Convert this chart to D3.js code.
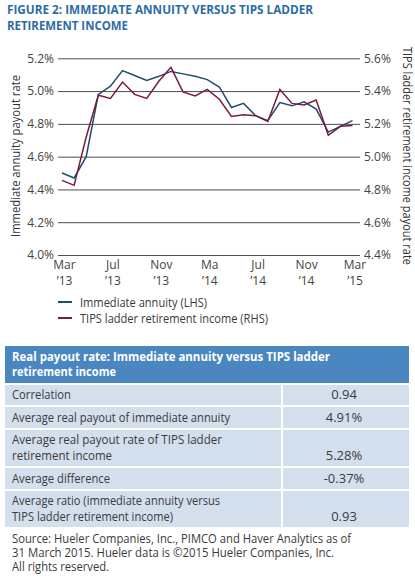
<!DOCTYPE html>
<html><head><meta charset="utf-8">
<script src="https://cdn.jsdelivr.net/npm/d3@7"></script>
<style>
html,body{margin:0;padding:0;background:#fff;}
svg{display:block;font-family:"Open Sans",sans-serif;}
</style></head>
<body>
<svg id="c" width="415" height="579"></svg>
<script>
// ---- data ----
const months = ["Mar 13","Apr 13","May 13","Jun 13","Jul 13","Aug 13","Sep 13","Oct 13","Nov 13","Dec 13",
  "Jan 14","Feb 14","Mar 14","Apr 14","May 14","Jun 14","Jul 14","Aug 14","Sep 14","Oct 14","Nov 14","Dec 14",
  "Jan 15","Feb 15","Mar 15"];
const annuityLHS = [4.50,4.47,4.60,4.98,5.03,5.125,5.095,5.065,5.09,5.12,5.105,5.09,5.07,5.025,4.90,4.925,4.85,4.82,4.93,4.91,4.935,4.89,4.75,4.785,4.82];
const tipsRHS = [4.855,4.825,5.12,5.375,5.355,5.455,5.38,5.355,5.46,5.545,5.395,5.37,5.41,5.35,5.245,5.255,5.25,5.215,5.41,5.325,5.315,5.345,5.13,5.185,5.19];
const xTickIndex = [0,4,8,12,16,20,24];
const xTickLabels = [["Mar","\u201913"],["Jul","\u201913"],["Nov","\u201913"],["Ma","\u201914"],["Jul","\u201914"],["Nov","\u201914"],["Mar","\u201915"]];
const leftTicks = [4.0,4.2,4.4,4.6,4.8,5.0,5.2];
const rightTicks = [4.4,4.6,4.8,5.0,5.2,5.4,5.6];
const seriesNames = ["Immediate annuity (LHS)","TIPS ladder retirement income (RHS)"];
const titleLines = ["FIGURE 2: IMMEDIATE ANNUITY VERSUS TIPS LADDER","RETIREMENT INCOME"];
const tableTitle = ["Real payout rate: Immediate annuity versus TIPS ladder","retirement income"];
const tableLabels = [["Correlation"],["Average real payout of immediate annuity"],["Average real payout rate of TIPS ladder","retirement income"],["Average difference"],["Average ratio (immediate annuity versus","TIPS ladder retirement income)"]];
const tableValues = ["0.94","4.91%","5.28%","-0.37%","0.93"];
const sourceLines = ["Source: Hueler Companies, Inc., PIMCO and Haver Analytics as of","31 March 2015. Hueler data is \u00A92015 Hueler Companies, Inc.","All rights reserved."];

// ---- drawing ----
const svg = d3.select("#c");
const blue = "#1f4d6c", red = "#7b1b3d", titleCol = "#2c6ca5", textCol = "#3a3a3a";

function fit(sel, w){ // squeeze glyphs horizontally to reach target width
  sel.each(function(){
    const len = this.getComputedTextLength();
    if (len > w) d3.select(this).attr("textLength", w).attr("lengthAdjust","spacingAndGlyphs");
  });
}

// title
svg.selectAll("text.title").data(titleLines).join("text")
  .attr("x",7).attr("y",(d,i)=>14+i*15.5)
  .attr("font-size",12.5).attr("font-weight","bold").attr("fill",titleCol)
  .text(d=>d)
  .each(function(d,i){ fit(d3.select(this), i===0?306:121); });

const x = d3.scaleLinear().domain([0, months.length-1]).range([62, 352.5]);
const yL = d3.scaleLinear().domain([4.0,5.2]).range([255,58.3]);
const yR = d3.scaleLinear().domain([4.4,5.6]).range([255,58.3]);
const gx0 = 58, gx1 = 360;

// left axis + gridlines
const gL = svg.append("g").attr("transform",`translate(${gx0},0)`)
  .call(d3.axisLeft(yL).tickValues(leftTicks).tickFormat(d=>d.toFixed(1)+"%").tickSize(-(gx1-gx0)).tickPadding(4));
gL.select(".domain").remove();
gL.selectAll("line").attr("stroke","#4d4d4d").attr("stroke-width",1);
gL.selectAll("text").attr("font-size",12).attr("fill","#444").attr("font-family","'Open Sans',sans-serif");

const gR = svg.append("g").attr("transform",`translate(${gx1},0)`)
  .call(d3.axisRight(yR).tickValues(rightTicks).tickFormat(d=>d.toFixed(1)+"%").tickSize(0).tickPadding(4));
gR.select(".domain").remove();
gR.selectAll("text").attr("font-size",12).attr("fill","#444").attr("font-family","'Open Sans',sans-serif");

// x axis labels
const gX = svg.append("g").attr("transform","translate(0,258)")
  .call(d3.axisBottom(x).tickValues(xTickIndex).tickSize(0).tickPadding(0).tickFormat((d,i)=>""));
gX.select(".domain").remove();
gX.selectAll(".tick text").each(function(d,i){
  const t = d3.select(this).attr("font-size",12).attr("fill","#444").attr("font-family","'Open Sans',sans-serif").attr("dy",null).attr("y",0);
  t.text(null);
  xTickLabels[i].forEach((s,j)=>t.append("tspan").attr("x",2).attr("y",11+j*15.5).text(s));
});

// axis titles
svg.append("text").attr("transform","translate(20,156) rotate(-90)").attr("text-anchor","middle")
  .attr("font-size",12.5).attr("fill","#333").text("Immediate annuity payout rate")
  .call(s=>fit(s,162));
svg.append("text").attr("transform","translate(403,156) rotate(90)").attr("text-anchor","middle")
  .attr("font-size",12.5).attr("fill","#333").text("TIPS ladder retirement income payout rate")
  .call(s=>fit(s,218));

// lines
const lineL = d3.line().x((d,i)=>x(i)).y(d=>yL(d));
const lineR = d3.line().x((d,i)=>x(i)).y(d=>yR(d));
svg.append("path").datum(annuityLHS).attr("d",lineL).attr("fill","none").attr("stroke",blue).attr("stroke-width",1.5);
svg.append("path").datum(tipsRHS).attr("d",lineR).attr("fill","none").attr("stroke",red).attr("stroke-width",1.5);

// legend
const lg = svg.append("g");
[blue,red].forEach((c,i)=>{
  const yy = 302 + i*16;
  lg.append("line").attr("x1",58).attr("x2",72).attr("y1",yy).attr("y2",yy).attr("stroke",c).attr("stroke-width",2);
  lg.append("text").attr("x",80).attr("y",yy+4.5).attr("font-size",13).attr("fill",textCol).text(seriesNames[i])
    .call(s=>fit(s, i===0?127:188));
});

// table
const tX0 = 5, tX1 = 409, colX = 282;
svg.append("rect").attr("x",tX0).attr("y",346).attr("width",tX1-tX0).attr("height",37).attr("fill","#4a86c0");
tableTitle.forEach((s,i)=>{
  svg.append("text").attr("x",12).attr("y",360.5+i*15.5).attr("font-size",12.5).attr("font-weight","bold").attr("fill","#fff").text(s)
    .call(sel=>fit(sel, i===0?318:104));
});
const rowTop = [385,407,430,468,491], rowH = [20,21,36,21,36];
const labelW = [[59],[218],[210,100],[98],[208,161]];
tableValues.forEach((v,i)=>{
  svg.append("rect").attr("x",tX0).attr("y",rowTop[i]).attr("width",colX-1-tX0).attr("height",rowH[i]).attr("fill","#d4dfee");
  svg.append("rect").attr("x",colX+1).attr("y",rowTop[i]).attr("width",tX1-colX-1).attr("height",rowH[i]).attr("fill","#d4dfee");
  const lines = tableLabels[i];
  const last = rowTop[i]+rowH[i]-6.5;
  lines.forEach((s,j)=>{
    svg.append("text").attr("x",12).attr("y", last-(lines.length-1-j)*15.5).attr("font-size",12.5).attr("fill",textCol).text(s)
      .call(sel=>fit(sel,labelW[i][j]));
  });
  svg.append("text").attr("x",344).attr("y",last).attr("text-anchor","middle").attr("font-size",13).attr("fill",textCol).text(v);
});

// source
sourceLines.forEach((s,i)=>{
  svg.append("text").attr("x",12).attr("y",543+i*14).attr("font-size",12).attr("fill",textCol).text(s)
    .call(sel=>fit(sel,[339,322,97][i]));
});
</script>
</body></html>
